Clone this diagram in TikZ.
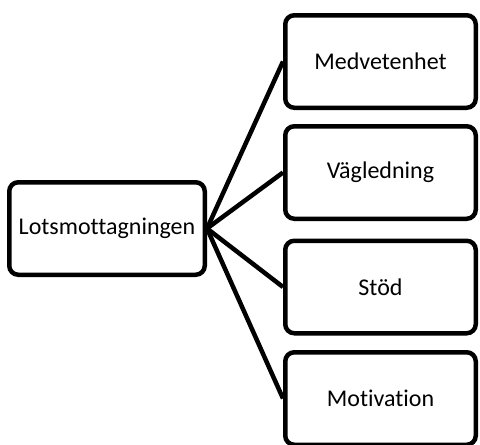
\documentclass[tikz,border=0pt]{standalone}
\usepackage{fontspec}
\setmainfont{Carlito}[Ligatures={NoCommon}]

\begin{document}
\begin{tikzpicture}[x=1pt,y=-1pt,
  box/.style={draw, line width=4.5pt, rounded corners=9pt, minimum height=92.5pt,
    font=\fontsize{24}{28}\selectfont},
  link/.style={line width=4.5pt}]
  \useasboundingbox (0,0) rectangle (480,445);

  \node[box, minimum width=195.5pt] (lots) at (107,228.5) {Lotsmottagningen};
  \node[box, minimum width=190.5pt] (medv) at (380.5,61.5) {Medvetenhet};
  \node[box, minimum width=190.5pt] (vagl) at (380.5,172.5) {Vägledning};
  \node[box, minimum width=190.5pt] (stod) at (380.5,287) {Stöd};
  \node[box, minimum width=190.5pt] (moti) at (380.5,398.5) {Motivation};

  \draw[link] (lots.east) -- (medv.west);
  \draw[link] (lots.east) -- (vagl.west);
  \draw[link] (lots.east) -- (stod.west);
  \draw[link] (lots.east) -- (moti.west);
\end{tikzpicture}
\end{document}
